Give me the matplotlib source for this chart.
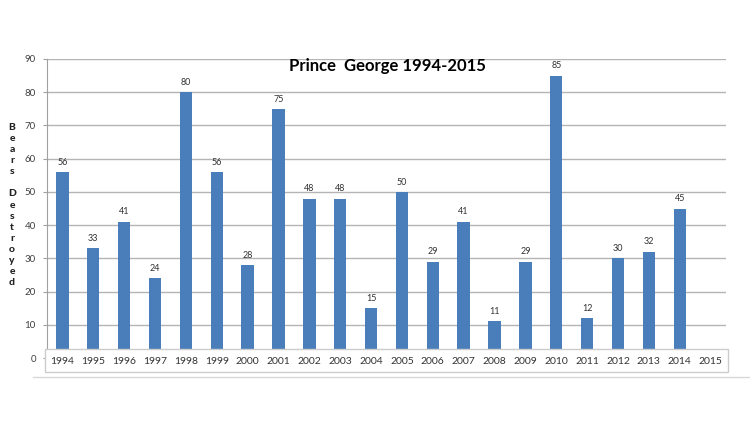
import matplotlib
matplotlib.use('Agg')
import matplotlib.pyplot as plt
from matplotlib.patches import Rectangle
from matplotlib.lines import Line2D

years = [str(y) for y in range(1994, 2016)]
bears = [56, 33, 41, 24, 80, 56, 28, 75, 48, 48, 15, 50, 29, 41, 11, 29, 85, 12, 30, 32, 45, None]
title = 'Prince  George 1994-2015'
ylabel = 'Bears\n\nDestroyed'

plt.rcParams['font.family'] = ['Lato', 'DejaVu Sans']

W, H = 750, 432
fig = plt.figure(figsize=(W / 100, H / 100), dpi=100)
ax = fig.add_axes([47 / W, 1 - 358 / H, (726 - 47) / W, (358 - 59) / H])

xs = [i for i, v in enumerate(bears) if v is not None]
vals = [v for v in bears if v is not None]
ax.bar(xs, vals, width=0.4, color='#4a7ebb', zorder=2)
for x, v in zip(xs, vals):
    ax.text(x, v + 1.6, str(v), ha='center', va='bottom', fontsize=6.5, color='#333333')

ax.set_xlim(-0.5, len(years) - 0.5)
ax.set_ylim(0, 90)
ax.set_yticks(range(0, 91, 10))
ax.tick_params(axis='y', labelsize=7, colors='#404040', length=3, width=0.8, pad=5)
ax.tick_params(axis='y', color='#a0a0a0')
ax.set_xticks([])
ax.grid(axis='y', color='#b4b4b4', linewidth=1)
ax.set_axisbelow(True)
for s in ['top', 'right', 'bottom']:
    ax.spines[s].set_visible(False)
ax.spines['left'].set_color('#a0a0a0')

ax.set_title(title, fontsize=12, fontweight='bold', pad=0,
             x=(387 - 47) / (726 - 47), y=1 - (66 - 59) / (358 - 59), va='center')

# stacked y label
letters = '\n'.join(list(ylabel.replace('\n\n', ' '))).replace(' ', '')
fig.text(12 / W, 1 - 205 / H, letters, ha='center', va='center', fontsize=7.5,
         fontweight='black', linespacing=1.3, color='#222222')

# category label box under the bars
ax.add_patch(Rectangle((45 / W, 1 - 372 / H), (728 - 45) / W, (372 - 349) / H,
                       transform=fig.transFigure, facecolor='white',
                       edgecolor='#cccccc', linewidth=1, zorder=5, clip_on=False))
trans = ax.get_xaxis_transform()
label_y = -(361 - 358) / (358 - 59)
for i, y in enumerate(years):
    ax.text(i, label_y, y, transform=trans, ha='center', va='center', fontsize=7.5,
            color='#333333', zorder=6, clip_on=False)
fig.lines.append(Line2D([33 / W, 1], [1 - 377 / H] * 2, transform=fig.transFigure,
                        color='#d8d8d8', linewidth=1))

fig.savefig('out.png', dpi=100)
